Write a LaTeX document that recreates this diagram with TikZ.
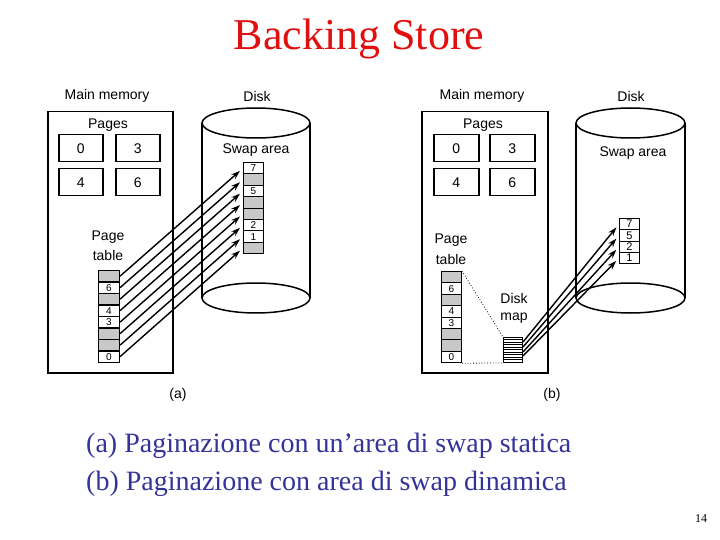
\documentclass[tikz,border=0pt]{standalone}
\usepackage{fontspec}
\setmainfont{Liberation Serif}
\newfontfamily\diag{Liberation Sans}
\usetikzlibrary{arrows.meta}
\definecolor{titlered}{RGB}{224,16,16}
\definecolor{capblue}{RGB}{51,51,153}
\definecolor{cellgray}{RGB}{200,200,200}
\tikzset{
  lbl/.style={font=\diag\fontsize{14}{16}\selectfont, inner sep=0pt},
  membox/.style={draw, line width=1.5pt, anchor=north west, inner sep=0pt},
  pagebox/.style={draw, line width=1.5pt, anchor=north west, inner sep=0pt, minimum width=44pt, minimum height=27pt, font=\diag\fontsize{14}{14}\selectfont},
  cell/.style={draw, line width=1pt, anchor=north west, inner sep=0pt, minimum width=20pt, minimum height=11.4pt, font=\diag\fontsize{10}{10}\selectfont},
  arr/.style={line width=1.4pt, -{Stealth[length=9pt,width=6pt]}, shorten >=4pt},
  cyl/.style={line width=1.5pt}
}
\begin{document}
\begin{tikzpicture}[x=1pt,y=-1pt]
\useasboundingbox (0,0) rectangle (720,540);
% title
\node[text=titlered, font=\fontsize{44}{46}\selectfont, inner sep=0pt, anchor=base] (title) at (359,50) {Backing Store};

% ---------------- (a) ----------------
\node[lbl] (mmla) at (107,96) {Main memory};
\node[membox, minimum width=125pt, minimum height=261pt] (mma) at (47,111) {};
\node[lbl] (pgla) at (108,125) {Pages};
\node[pagebox] (a0) at (58,134) {0};
\node[pagebox] (a3) at (115,134) {3};
\node[pagebox] (a4) at (58,168) {4};
\node[pagebox] (a6) at (115,168) {6};
\node[lbl] (ptla1) at (108,237) {Page};
\node[lbl] (ptla2) at (108,255) {table};
% disk a
\draw[cyl] (256,123) ellipse (54pt and 15pt);
\draw[cyl] (256,298) ellipse (54pt and 15pt);
\draw[cyl] (202,123) -- (202,298);
\draw[cyl] (310,123) -- (310,298);
\node[lbl] (dla) at (257,96) {Disk};
\node[lbl] (swla) at (256,150) {Swap area};
\foreach \f/\t [count=\i from 0] in {cellgray/{},white/6,cellgray/{},white/4,white/3,cellgray/{},cellgray/{},white/0}
  \node[cell, fill=\f, minimum width=21pt] (pa\i) at (98,{270+11.5*\i}) {\t};
\foreach \f/\t [count=\i from 0] in {white/7,cellgray/{},white/5,cellgray/{},cellgray/{},white/2,white/1,cellgray/{}}
  \node[cell, fill=\f] (sa\i) at (243,{162+11.4*\i}) {\t};
\foreach \i in {0,...,7}
  \draw[arr] (pa\i.east) -- (sa\i.west);
\node[lbl] (capa) at (178,395) {(a)};

% ---------------- (b) ----------------
\node[lbl] (mmlb) at (482,96) {Main memory};
\node[membox, minimum width=126pt, minimum height=261pt] (mmb) at (421,111) {};
\node[lbl] (pglb) at (483,125) {Pages};
\node[pagebox, minimum width=45pt] (b0) at (433,134) {0};
\node[pagebox, minimum width=45pt] (b3) at (489,134) {3};
\node[pagebox, minimum width=45pt] (b4) at (433,168) {4};
\node[pagebox, minimum width=45pt] (b6) at (489,168) {6};
\node[lbl] (ptlb1) at (451,240) {Page};
\node[lbl] (ptlb2) at (451,259) {table};
\node[lbl] (dmlb1) at (514,298) {Disk};
\node[lbl] (dmlb2) at (514,318) {map};
% disk b
\draw[cyl] (630.5,123) ellipse (54.5pt and 15pt);
\draw[cyl] (630.5,298) ellipse (54.5pt and 15pt);
\draw[cyl] (576,123) -- (576,298);
\draw[cyl] (685,123) -- (685,298);
\node[lbl] (dlb) at (631,96) {Disk};
\node[lbl] (swlb) at (633,153) {Swap area};
\foreach \f/\t [count=\i from 0] in {cellgray/{},white/6,cellgray/{},white/4,white/3,cellgray/{},cellgray/{},white/0}
  \node[cell, fill=\f] (pb\i) at (441,{271+11.4*\i}) {\t};
\foreach \t [count=\i from 0] in {7,5,2,1}
  \node[cell, font=\diag\fontsize{11}{11}\selectfont] (sb\i) at (619,{218+11.3*\i}) {\t};
% disk map
\node[draw, line width=1pt, anchor=north west, inner sep=0pt, minimum width=19pt, minimum height=25pt] (dm) at (503,337) {};
\foreach \k in {1,...,9}
  \draw[line width=0.6pt] ([yshift={-2.5pt*\k}]dm.north west) -- ([yshift={-2.5pt*\k}]dm.north east);
\draw[dotted, line width=0.8pt] (pb0.north east) -- (dm.north west);
\draw[dotted, line width=0.8pt] (pb7.south east) -- (dm.south west);
\foreach \i/\s in {0/5,1/10,2/15,3/19}
  \draw[arr] ([yshift={-\s pt}]dm.north east) -- (sb\i.west);
\node[lbl] (capb) at (552,395) {(b)};

% captions
\node[text=capblue, font=\fontsize{28}{30}\selectfont, anchor=base west, inner sep=0pt] (cap1) at (86,452) {(a) Paginazione con un’area di swap statica};
\node[text=capblue, font=\fontsize{28}{30}\selectfont, anchor=base west, inner sep=0pt] (cap2) at (86,490) {(b) Paginazione con area di swap dinamica};
\node[font=\fontsize{12}{12}\selectfont, inner sep=0pt] (pnum) at (701,519) {14};
\end{tikzpicture}
\end{document}
